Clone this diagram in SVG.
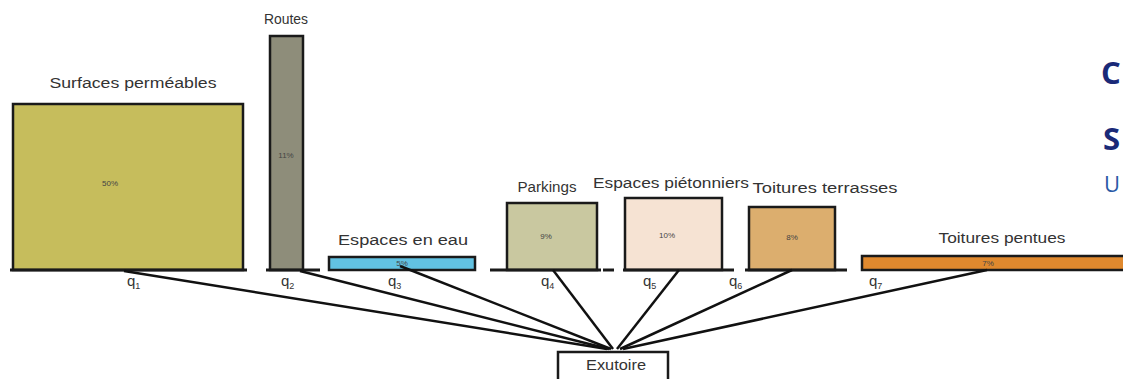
<svg xmlns="http://www.w3.org/2000/svg" width="1123" height="379" viewBox="0 0 1123 379">
<style>
.box{stroke:#1a1a1a;stroke-width:2.5}
.base{stroke:#1a1a1a;stroke-width:3;fill:none}
.lbl{font-family:"Liberation Sans",Arial,sans-serif;font-size:14px;fill:#333;text-anchor:middle}
.pct{font-family:"Liberation Sans",Arial,sans-serif;font-size:8px;fill:#444;text-anchor:middle}
.q{font-family:"Liberation Sans",Arial,sans-serif;font-size:15px;fill:#333}
.qs{font-size:9px}
.conn line{stroke:#111;stroke-width:2.5}
.head{font-family:"Open Sans","Liberation Sans",sans-serif;font-weight:bold;fill:#1a2a78}
</style>
<rect width="1123" height="379" fill="#ffffff"/>

<g id="surfaces-permeables">
<rect class="box" x="13" y="104" width="230" height="166" fill="#c6bd5c"/>
<line class="base" x1="10" y1="270" x2="247" y2="270"/>
<text class="lbl" x="133" y="88" textLength="167" lengthAdjust="spacingAndGlyphs">Surfaces perméables</text>
<text class="pct" x="110" y="186">50%</text>
<text class="q" x="127" y="286">q<tspan class="qs" dy="3">1</tspan></text>
</g>

<g id="routes">
<rect class="box" x="270" y="36" width="33" height="234" fill="#8e8d7a"/>
<line class="base" x1="266" y1="270" x2="320" y2="270"/>
<text class="lbl" x="286" y="24" textLength="44" lengthAdjust="spacingAndGlyphs">Routes</text>
<text class="pct" x="286" y="158">11%</text>
<text class="q" x="281" y="286">q<tspan class="qs" dy="3">2</tspan></text>
</g>

<g id="espaces-en-eau">
<rect class="box" x="329" y="257" width="146" height="13" fill="#62c2e2"/>
<text class="lbl" x="403" y="245" textLength="130" lengthAdjust="spacingAndGlyphs">Espaces en eau</text>
<text class="pct" x="402" y="266">5%</text>
<text class="q" x="388" y="286">q<tspan class="qs" dy="3">3</tspan></text>
</g>

<g id="parkings">
<rect class="box" x="507" y="203" width="90" height="67" fill="#c9c8a0"/>
<line class="base" x1="490" y1="270" x2="601" y2="270"/>
<text class="lbl" x="547" y="192" textLength="59" lengthAdjust="spacingAndGlyphs">Parkings</text>
<text class="pct" x="546" y="239">9%</text>
<text class="q" x="541" y="286">q<tspan class="qs" dy="3">4</tspan></text>
</g>

<g id="espaces-pietonniers">
<rect class="box" x="625" y="198" width="97" height="72" fill="#f6e3d3"/>
<line class="base" x1="603" y1="270" x2="614" y2="270"/>
<line class="base" x1="623" y1="270" x2="734" y2="270"/>
<text class="lbl" x="671" y="188" textLength="156" lengthAdjust="spacingAndGlyphs">Espaces piétonniers</text>
<text class="pct" x="667" y="238">10%</text>
<text class="q" x="643" y="286">q<tspan class="qs" dy="3">5</tspan></text>
</g>

<g id="toitures-terrasses">
<rect class="box" x="749" y="207" width="86" height="63" fill="#dcae6e"/>
<line class="base" x1="745" y1="270" x2="847" y2="270"/>
<text class="lbl" x="825" y="193" textLength="145" lengthAdjust="spacingAndGlyphs">Toitures terrasses</text>
<text class="pct" x="792" y="240">8%</text>
<text class="q" x="729" y="286">q<tspan class="qs" dy="3">6</tspan></text>
</g>

<g id="toitures-pentues">
<rect class="box" x="862" y="256" width="270" height="14" fill="#e0892e"/>
<text class="lbl" x="1002" y="243" textLength="127" lengthAdjust="spacingAndGlyphs">Toitures pentues</text>
<text class="pct" x="988" y="266">7%</text>
<text class="q" x="869" y="286">q<tspan class="qs" dy="3">7</tspan></text>
</g>

<g id="connectors" class="conn">
<line x1="124" y1="271" x2="607" y2="349"/>
<line x1="300" y1="271" x2="609" y2="349"/>
<line x1="400" y1="266" x2="611" y2="349"/>
<line x1="553" y1="270" x2="613" y2="349"/>
<line x1="679" y1="270" x2="617" y2="349"/>
<line x1="792" y1="270" x2="620" y2="349"/>
<line x1="987" y1="270" x2="623" y2="349"/>
</g>

<g id="exutoire">
<rect x="558" y="352" width="110" height="30" fill="#ffffff" stroke="#1a1a1a" stroke-width="2.5"/>
<text class="lbl" x="616" y="370" textLength="60" lengthAdjust="spacingAndGlyphs">Exutoire</text>
</g>

<g id="heading">
<text class="head" x="1101" y="84" font-size="31">C</text>
<text class="head" x="1103" y="150" font-size="31">S</text>
<text x="1104" y="192" font-family="'Open Sans','Liberation Sans',sans-serif" font-size="22" fill="#2a5aa6">U</text>
</g>
</svg>
